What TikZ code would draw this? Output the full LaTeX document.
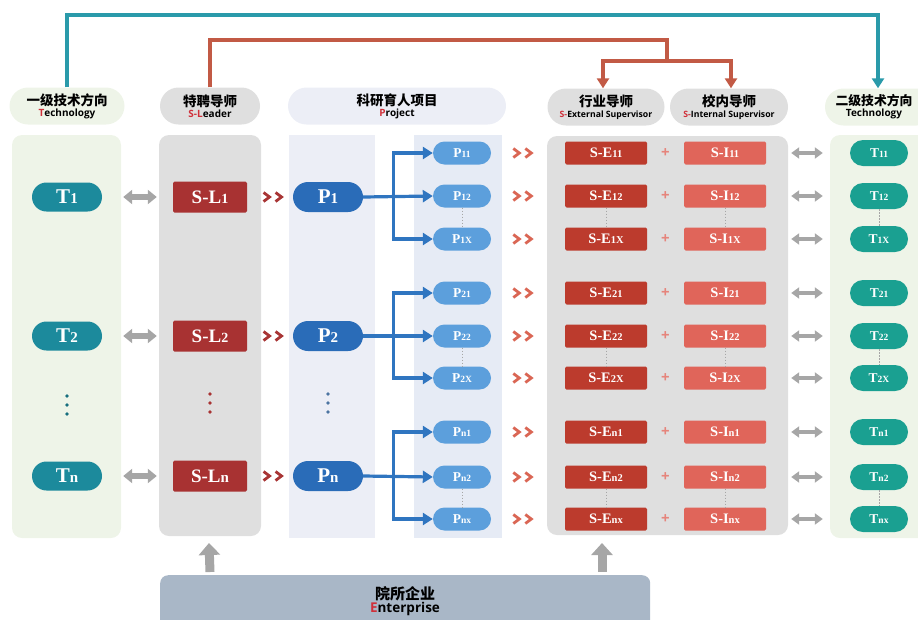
\documentclass[tikz,border=0pt]{standalone}
\usepackage{fontspec}
\setmainfont{Liberation Serif}
\newfontfamily\cjk{Noto Sans CJK SC}
\newfontfamily\hsans{Open Sans}
\usetikzlibrary{arrows.meta,calc,shapes.misc}
\definecolor{tealT}{HTML}{1C8A9C}
\definecolor{tealR}{HTML}{1AA091}
\definecolor{slred}{HTML}{A83232}
\definecolor{sered}{HTML}{BC3B2D}
\definecolor{sired}{HTML}{E0655A}
\definecolor{pblue}{HTML}{2A6CB8}
\definecolor{psub}{HTML}{5C9FDC}
\definecolor{bline}{HTML}{2F75C0}
\definecolor{gcol}{HTML}{DFDFDF}
\definecolor{greencol}{HTML}{EEF4E8}
\definecolor{lavcol}{HTML}{ECEEF6}
\definecolor{subcol}{HTML}{E6EBF5}
\definecolor{entbox}{HTML}{A9B7C7}
\definecolor{garrow}{HTML}{A6A6A6}
\definecolor{tline}{HTML}{2A9AAA}
\definecolor{rline}{HTML}{C25A45}
\definecolor{hred}{HTML}{D0303A}
\definecolor{chevA}{HTML}{A83535}
\definecolor{chevB}{HTML}{DA6654}
\newcommand\dg[2]{{\fontsize{#1}{#1}\selectfont #2}}
\tikzset{
  pill/.style={rounded rectangle, rounded rectangle arc length=180, inner sep=0pt},
  tnode/.style={pill, fill=tealT, text=white, minimum width=70, minimum height=29, font=\bfseries\fontsize{21}{21}\selectfont},
  slnode/.style={rectangle, rounded corners=1.5, fill=slred, text=white, minimum width=74, minimum height=31, inner sep=0pt, font=\bfseries\fontsize{19}{19}\selectfont},
  pnode/.style={pill, fill=pblue, text=white, minimum width=70, minimum height=30, font=\bfseries\fontsize{21}{21}\selectfont},
  psnode/.style={pill, fill=psub, text=white, minimum width=58, minimum height=23, font=\bfseries\fontsize{13.5}{13.5}\selectfont},
  senode/.style={rectangle, rounded corners=1.5, fill=sered, text=white, minimum width=82, minimum height=23, inner sep=0pt, font=\bfseries\fontsize{14.5}{14.5}\selectfont},
  sinode/.style={senode, fill=sired},
  trnode/.style={pill, fill=tealR, text=white, minimum width=58, minimum height=26, font=\bfseries\fontsize{13.5}{13.5}\selectfont},
  header/.style={pill, align=center, minimum height=37, inner sep=0pt},
  colbg/.style={rounded corners=10},
  gdarrow/.style={draw=garrow, line width=5.5, {Triangle[width=14,length=9]}-{Triangle[width=14,length=9]}},
  gdarrowR/.style={draw=garrow, line width=4, {Triangle[width=11,length=8]}-{Triangle[width=11,length=8]}},
  barrow/.style={draw=bline, line width=3.2, -{Triangle[width=12,length=10]}},
  uparrow/.style={draw=garrow, line width=9, -{Triangle[width=21,length=12]}},
  chevs/.pic={\draw[line width=2.8, line join=miter, pic actions] (-11,-4.5) -- (-5,0) -- (-11,4.5) (1,-4.5) -- (7,0) -- (1,4.5);},
  smalldots/.style={draw=gray!70, line width=1, dash pattern=on 1.5 off 1.5},
  plus/.style={text=sired!80, font=\hsans\bfseries\fontsize{15}{15}\selectfont, inner sep=0pt}
}
\begin{document}
\begin{tikzpicture}[x=1pt,y=-1pt]
\useasboundingbox (0,0) rectangle (918,619);
% column backgrounds
\fill[greencol, colbg] (12,135) rectangle (121,538);
\fill[gcol, colbg] (159,135) rectangle (261,536);
\fill[lavcol] (289,135) rectangle (375,538);
\fill[subcol] (414,135) rectangle (502,538);
\fill[gcol, colbg] (547,136) rectangle (788,535);
\fill[greencol, colbg] (830,135) rectangle (930,538);
% headers
\node[header, fill=greencol, minimum width=115] (h1) at (67,106) {{\cjk\bfseries\fontsize{13.5}{15}\selectfont 一级技术方向}\\[-1pt]{\hsans\bfseries\fontsize{10}{10}\selectfont{\color{hred}T}echnology}};
\node[header, fill=gcol, minimum width=100] (h2) at (210,106) {{\cjk\bfseries\fontsize{13.5}{15}\selectfont 特聘导师}\\[-1pt]{\hsans\bfseries\fontsize{10}{10}\selectfont{\color{hred}S-L}eader}};
\node[header, fill=lavcol, minimum width=218] (h3) at (397,106) {{\cjk\bfseries\fontsize{13.5}{15}\selectfont 科研育人项目}\\[-1pt]{\hsans\bfseries\fontsize{10}{10}\selectfont{\color{hred}P}roject}};
\node[header, fill=gcol, minimum width=117] (h4) at (606,107) {{\cjk\bfseries\fontsize{13.5}{15}\selectfont 行业导师}\\[-1pt]{\hsans\bfseries\fontsize{8.7}{10}\selectfont{\color{hred}S-}External Supervisor}};
\node[header, fill=gcol, minimum width=118] (h5) at (729,107) {{\cjk\bfseries\fontsize{13.5}{15}\selectfont 校内导师}\\[-1pt]{\hsans\bfseries\fontsize{8.7}{10}\selectfont{\color{hred}S-}Internal Supervisor}};
\node[header, fill=greencol, minimum width=110] (h6) at (880,107) {};
\node[align=center, inner sep=0pt] (h6t) at (874,107) {{\cjk\bfseries\fontsize{12.8}{15}\selectfont 二级技术方向}\\[-1pt]{\hsans\bfseries\fontsize{10}{10}\selectfont Technology}};
% top connectors
\draw[tline, line width=3.5, -{Triangle[width=12,length=10]}] (h1.north) -- (67,15) -| (h6.north -| 878,0);
\coordinate (rsplit) at (667,61);
\draw[rline, line width=3.5] (h2.north) -- (210,40) -| (rsplit);
\draw[rline, line width=3.5, -{Triangle[width=12,length=10]}] (rsplit) -| (h4.north -| 603,0);
\draw[rline, line width=3.5, -{Triangle[width=12,length=10]}] (rsplit) -| (h5.north -| 731,0);
% main left nodes
\node[tnode] (t1) at (67,197) {T\dg{15}{1}};
\node[tnode] (t2) at (67,336) {T\dg{15}{2}};
\node[tnode] (tn) at (67,476) {T\dg{15}{n}};
\node[slnode] (sl1) at (210,197) {S-L\dg{14}{1}};
\node[slnode] (sl2) at (210,336) {S-L\dg{14}{2}};
\node[slnode] (sln) at (210,476) {S-L\dg{15}{n}};
\node[pnode] (p1) at (328,197) {P\dg{15}{1}};
\node[pnode] (p2) at (328,336) {P\dg{15}{2}};
\node[pnode] (pn) at (328,476) {P\dg{15}{n}};
\foreach \a/\b in {t1/sl1,t2/sl2,tn/sln}{
  \draw[gdarrow] ([xshift=21]\a.east) -- ([xshift=-16]\b.west);
}
\foreach \a/\b in {sl1/p1,sl2/p2,sln/pn}{
  \pic[chevA] at ($(\a.east)!0.6!(\b.west)$) {chevs};
}
% vertical dots
\foreach \y in {396,405,414}{
  \fill[tealT!80!black] (67,\y) circle (1.8);
  \fill[slred] (210,\y-2) circle (1.8);
  \fill[pblue!60!gray] (328,\y-2) circle (1.8);
}
% groups
\foreach \g/\ya/\yb/\yc/\s/\l/\mp in {1/153/196/239/1/X/p1, 2/293/336/378/2/X/p2, n/432/477/519/n/x/pn}{
  \node[psnode] (ps\g a) at (462,\ya) {P\dg{9.5}{\s 1}};
  \node[psnode] (ps\g b) at (462,\yb) {P\dg{9.5}{\s 2}};
  \node[psnode] (ps\g c) at (462,\yc) {P\dg{9.5}{\s\l}};
  \draw[barrow] (\mp.east) -- (ps\g b.west);
  \draw[barrow] ($(\mp.east)+(30,0)$) |- (ps\g a.west);
  \draw[barrow] ($(\mp.east)+(30,0)$) |- (ps\g c.west);
  \draw[smalldots] (ps\g b.south) -- (ps\g c.north);
  \foreach \r/\y/\t in {a/\ya/1, b/\yb/2, c/\yc/\l}{
    \node[senode] (se\g\r) at (606,\y) {S-E\dg{10.5}{\s\t}};
    \node[sinode] (si\g\r) at (725,\y) {S-I\dg{10.5}{\s\t}};
    \node[trnode] (tr\g\r) at (879,\y) {T\dg{9.5}{\s\t}};
    \pic[chevB] at ($(ps\g\r.east)!0.45!(se\g\r.west)$) {chevs};
    \node[plus] (pl\g\r) at ($(se\g\r.east)!0.5!(si\g\r.west)$) {+};
    \draw[gdarrowR] ([xshift=25]si\g\r.east) -- ([xshift=-27]tr\g\r.west);
  }
  \draw[smalldots] (se\g b.south) -- (se\g c.north);
  \draw[smalldots] (si\g b.south) -- (si\g c.north);
  \draw[smalldots] (tr\g b.south) -- (tr\g c.north);
}
% enterprise
\node[rectangle, rounded corners=8, fill=entbox, minimum width=490, minimum height=60, anchor=north west, inner sep=0pt] (ent) at (160,575) {};
\node[align=center, inner sep=0pt] (entt) at (405,601) {{\cjk\bfseries\fontsize{15}{17}\selectfont 院所企业}\\[1pt]{\hsans\bfseries\fontsize{13.5}{14}\selectfont{\color{hred}E}nterprise}};
\draw[uparrow] (ent.north -| sln) ++(0,-3) -- (209,543);
\draw[uparrow] (ent.north -| 602,0) ++(0,-3) -- (602,543);
\end{tikzpicture}
\end{document}
